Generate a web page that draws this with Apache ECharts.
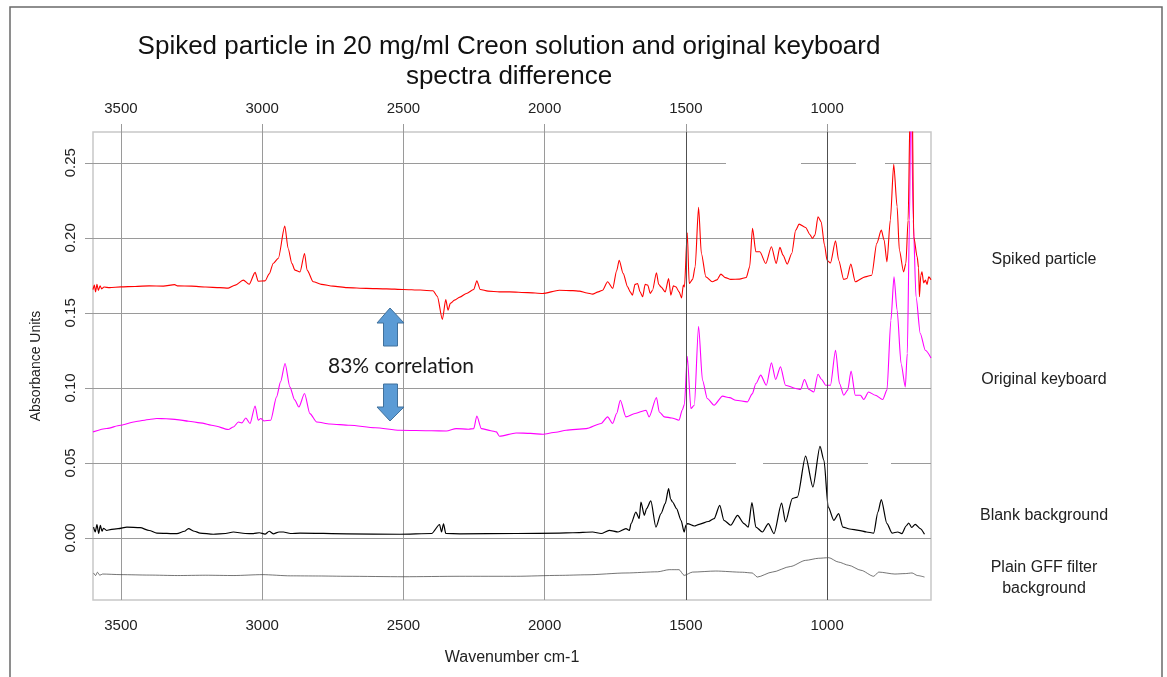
<!DOCTYPE html>
<html>
<head>
<meta charset="utf-8">
<title>Spectra difference</title>
<script src="https://cdn.jsdelivr.net/npm/echarts@6.0.0/dist/echarts.min.js"></script>
<style>
  html, body { margin: 0; padding: 0; background: #fff; }
  #chart { width: 1167px; height: 677px; }
</style>
</head>
<body>
<div id="chart"></div>
<script>
// tick positions
const xTicks = [3500, 3000, 2500, 2000, 1500, 1000]
const yTicks = [0, 0.05, 0.10, 0.15, 0.20, 0.25]
const darkLines = [1500, 1000]

// [wavenumber, absorbance]
const spiked = [
  [3599, 0.1655], [3594, 0.1685], [3590, 0.1640], [3585, 0.1690], [3580, 0.1650], [3574, 0.1680],
  [3568, 0.1660], [3560, 0.1672], [3540, 0.1668], [3500, 0.1673], [3450, 0.1676], [3400, 0.1680],
  [3350, 0.1678], [3310, 0.1688], [3300, 0.1680], [3250, 0.1678], [3200, 0.1672], [3150, 0.1668],
  [3120, 0.1665], [3095, 0.1685], [3067, 0.1718], [3046, 0.1691], [3025, 0.1770], [3014, 0.1711],
  [2990, 0.1713], [2975, 0.1760], [2961, 0.1829], [2943, 0.1863], [2920, 0.2078], [2908, 0.1929],
  [2895, 0.1830], [2884, 0.1785], [2866, 0.1773], [2850, 0.1896], [2841, 0.1785], [2819, 0.1707],
  [2790, 0.1690], [2749, 0.1678], [2700, 0.1668], [2631, 0.1663], [2560, 0.1660], [2501, 0.1656],
  [2440, 0.1652], [2395, 0.1647], [2380, 0.1610], [2362, 0.1456], [2350, 0.1589], [2342, 0.1518],
  [2334, 0.1563], [2319, 0.1585], [2300, 0.1605], [2277, 0.1629], [2251, 0.1656], [2240, 0.1713],
  [2228, 0.1656], [2200, 0.1645], [2160, 0.1640], [2124, 0.1640], [2060, 0.1635], [2007, 0.1629],
  [1948, 0.1651], [1900, 0.1648], [1877, 0.1645], [1850, 0.1632], [1830, 0.1625], [1810, 0.1640],
  [1795, 0.1651], [1777, 0.1707], [1759, 0.1663], [1745, 0.1780], [1736, 0.1851], [1722, 0.1763],
  [1706, 0.1673], [1697, 0.1640], [1689, 0.1618], [1680, 0.1690], [1671, 0.1696], [1662, 0.1640],
  [1653, 0.1607], [1644, 0.1690], [1635, 0.1685], [1626, 0.1630], [1618, 0.1651], [1604, 0.1767],
  [1596, 0.1690], [1588, 0.1673], [1573, 0.1640], [1561, 0.1729], [1553, 0.1618], [1544, 0.1680],
  [1535, 0.1673], [1524, 0.1640], [1515, 0.1600], [1509, 0.1685], [1505, 0.1673], [1495, 0.2033],
  [1488, 0.1696], [1476, 0.1723], [1467, 0.1807], [1455, 0.2203], [1445, 0.1896], [1429, 0.1740],
  [1406, 0.1707], [1390, 0.1720], [1376, 0.1758], [1360, 0.1735], [1341, 0.1723], [1310, 0.1725],
  [1286, 0.1736], [1274, 0.1807], [1264, 0.2063], [1252, 0.1907], [1238, 0.1907], [1217, 0.1829],
  [1197, 0.1940], [1180, 0.1829], [1167, 0.1936], [1156, 0.1885], [1141, 0.1825], [1125, 0.1896],
  [1111, 0.2051], [1099, 0.2091], [1076, 0.2069], [1060, 0.2020], [1052, 0.1996], [1043, 0.2018],
  [1032, 0.2140], [1021, 0.2107], [1009, 0.1951], [1000, 0.1851], [988, 0.1833], [970, 0.1980],
  [959, 0.1851], [941, 0.1723], [930, 0.1729], [916, 0.1825], [900, 0.1707], [865, 0.1740],
  [842, 0.1751], [824, 0.1963], [808, 0.2051], [798, 0.1985], [788, 0.1840], [776, 0.2118],
  [764, 0.2489], [752, 0.2207], [744, 0.1918], [729, 0.1773], [721, 0.1829], [713, 0.2118],
  [706, 0.2850], [699, 0.3000], [693, 0.2007], [681, 0.1873], [676, 0.1800], [673, 0.1607],
  [668, 0.1750], [664, 0.1773], [658, 0.1700], [652, 0.1718], [646, 0.1690], [640, 0.1740],
  [632, 0.1720]
]

const keyboard = [
  [3599, 0.0707], [3550, 0.0730], [3502, 0.0751], [3450, 0.0775], [3400, 0.0790], [3373, 0.0796],
  [3340, 0.0795], [3302, 0.0789], [3260, 0.0778], [3220, 0.0767], [3170, 0.0748], [3120, 0.0723],
  [3102, 0.0740], [3084, 0.0773], [3072, 0.0767], [3058, 0.0800], [3043, 0.0763], [3025, 0.0880],
  [3014, 0.0785], [3005, 0.0796], [2994, 0.0780], [2970, 0.0785], [2949, 0.0940], [2935, 0.1040],
  [2919, 0.1163], [2902, 0.1007], [2885, 0.0920], [2870, 0.0873], [2850, 0.0963], [2831, 0.0829],
  [2807, 0.0773], [2760, 0.0760], [2690, 0.0751], [2600, 0.0735], [2513, 0.0718], [2400, 0.0715],
  [2348, 0.0713], [2313, 0.0729], [2270, 0.0725], [2251, 0.0729], [2240, 0.0813], [2224, 0.0729],
  [2190, 0.0715], [2171, 0.0707], [2160, 0.0678], [2101, 0.0700], [2050, 0.0697], [2007, 0.0691],
  [1960, 0.0705], [1924, 0.0718], [1853, 0.0729], [1800, 0.0763], [1777, 0.0807], [1759, 0.0763],
  [1745, 0.0830], [1732, 0.0918], [1712, 0.0807], [1680, 0.0830], [1641, 0.0851], [1630, 0.0807],
  [1604, 0.0936], [1594, 0.0840], [1576, 0.0807], [1550, 0.0800], [1524, 0.0785], [1513, 0.0851],
  [1505, 0.0890], [1495, 0.1211], [1482, 0.0863], [1470, 0.0885], [1455, 0.1411], [1441, 0.1051],
  [1424, 0.0929], [1400, 0.0885], [1370, 0.0945], [1345, 0.0935], [1323, 0.0918], [1282, 0.0907],
  [1265, 0.0960], [1252, 0.1029], [1235, 0.1085], [1215, 0.1018], [1197, 0.1167], [1182, 0.1056],
  [1165, 0.1140], [1147, 0.1018], [1111, 0.0996], [1094, 0.0989], [1080, 0.1056], [1064, 0.0989],
  [1047, 0.0973], [1032, 0.1091], [1019, 0.1056], [1005, 0.1018], [988, 0.1018], [970, 0.1251],
  [956, 0.1029], [941, 0.0951], [927, 0.0985], [915, 0.1113], [900, 0.0951], [882, 0.0951],
  [870, 0.0923], [853, 0.0973], [829, 0.0951], [803, 0.0923], [788, 0.0985], [774, 0.1451],
  [763, 0.1740], [752, 0.1518], [738, 0.1163], [723, 0.1007], [716, 0.1229], [708, 0.2118],
  [703, 0.3100], [695, 0.2118], [685, 0.1607], [670, 0.1363], [652, 0.1251], [632, 0.1200]
]

const blank = [
  [3597, 0.0073], [3591, 0.0040], [3585, 0.0090], [3579, 0.0030], [3573, 0.0085], [3567, 0.0045],
  [3562, 0.0065], [3550, 0.0050], [3538, 0.0056], [3510, 0.0062], [3479, 0.0073], [3432, 0.0069],
  [3400, 0.0050], [3373, 0.0033], [3302, 0.0029], [3275, 0.0045], [3261, 0.0063], [3240, 0.0045],
  [3220, 0.0033], [3173, 0.0025], [3130, 0.0030], [3102, 0.0040], [3060, 0.0030], [3031, 0.0029],
  [3010, 0.0035], [2990, 0.0026], [2975, 0.0045], [2961, 0.0028], [2940, 0.0040], [2925, 0.0040],
  [2900, 0.0030], [2866, 0.0033], [2700, 0.0028], [2513, 0.0025], [2400, 0.0030], [2372, 0.0090],
  [2365, 0.0040], [2358, 0.0095], [2350, 0.0030], [2300, 0.0028], [2100, 0.0030], [1948, 0.0033],
  [1900, 0.0035], [1830, 0.0040], [1800, 0.0030], [1771, 0.0051], [1740, 0.0040], [1712, 0.0063],
  [1700, 0.0050], [1694, 0.0096], [1677, 0.0173], [1665, 0.0130], [1659, 0.0240], [1647, 0.0151],
  [1639, 0.0196], [1624, 0.0247], [1606, 0.0073], [1588, 0.0163], [1573, 0.0229], [1561, 0.0329],
  [1554, 0.0260], [1547, 0.0240], [1533, 0.0196], [1517, 0.0118], [1506, 0.0040], [1500, 0.0085],
  [1494, 0.0096], [1470, 0.0080], [1453, 0.0091], [1420, 0.0110], [1400, 0.0129], [1380, 0.0218],
  [1365, 0.0118], [1341, 0.0085], [1317, 0.0151], [1294, 0.0096], [1279, 0.0073], [1266, 0.0236],
  [1252, 0.0073], [1229, 0.0040], [1208, 0.0096], [1188, 0.0029], [1161, 0.0233], [1147, 0.0107],
  [1123, 0.0263], [1105, 0.0273], [1076, 0.0545], [1050, 0.0340], [1025, 0.0611], [1011, 0.0518],
  [996, 0.0207], [976, 0.0118], [959, 0.0163], [944, 0.0073], [920, 0.0060], [888, 0.0051],
  [860, 0.0040], [835, 0.0033], [820, 0.0173], [808, 0.0256], [788, 0.0096], [770, 0.0033],
  [750, 0.0040], [735, 0.0029], [720, 0.0080], [711, 0.0100], [700, 0.0070], [688, 0.0091],
  [670, 0.0063], [655, 0.0025]
]

const filter = [
  [3597, -0.0233], [3590, -0.0250], [3583, -0.0228], [3575, -0.0248], [3565, -0.0240], [3500, -0.0244],
  [3400, -0.0247], [3300, -0.0250], [3200, -0.0248], [3100, -0.0250], [3000, -0.0244], [2900, -0.0252],
  [2800, -0.0253], [2700, -0.0255], [2500, -0.0258], [2300, -0.0255], [2100, -0.0255], [1948, -0.0249],
  [1850, -0.0245], [1712, -0.0233], [1600, -0.0225], [1559, -0.0211], [1524, -0.0211], [1506, -0.0249],
  [1476, -0.0227], [1394, -0.0220], [1300, -0.0228], [1265, -0.0233], [1247, -0.0260], [1194, -0.0227],
  [1130, -0.0190], [1076, -0.0149], [1030, -0.0135], [994, -0.0131], [960, -0.0160], [923, -0.0182],
  [880, -0.0215], [835, -0.0255], [817, -0.0227], [760, -0.0240], [723, -0.0237], [699, -0.0233],
  [680, -0.0250], [655, -0.0260]
]

const seriesNames = ['Spiked particle', 'Original keyboard', 'Blank background', 'Plain GFF filter\nbackground']
const labelY = [260, 380, 516, 578]

const font = 'Liberation Sans, Arial, sans-serif'
const gridColor = '#9a9a9a'

const chart = echarts.init(document.getElementById('chart'))

const xAxisBase = {
  type: 'value',
  min: 632,
  max: 3599,
  inverse: true,
  axisLine: { show: false },
  axisTick: { show: true, length: 8, customValues: xTicks, lineStyle: { color: gridColor } },
  axisLabel: { customValues: xTicks, fontSize: 15, color: '#222', fontFamily: font, formatter: v => String(v) }
}

const lineSeries = (name, data, color, width) => ({
  name: name,
  type: 'line',
  data: data,
  showSymbol: false,
  symbol: 'none',
  smooth: 0.25,
  smoothMonotone: 'x',
  clip: true,
  animation: false,
  lineStyle: { color: color, width: width },
  z: 3
})

// white patches where the original picture has breaks in two grid lines
const gridGap = (x1, x2, y) => ({
  type: 'rect', shape: { x: x1, y: y - 1.5, width: x2 - x1, height: 3 },
  style: { fill: '#fff' }, z: 1, silent: true
})

const option = {
  backgroundColor: '#fff',
  animation: false,
  grid: {
    left: 93, top: 132, width: 838, height: 468,
    show: true, borderColor: '#c8c8c8', borderWidth: 1.5
  },
  xAxis: [
    Object.assign({}, xAxisBase, {
      position: 'bottom',
      axisLabel: Object.assign({}, xAxisBase.axisLabel, { margin: 18 }),
      splitLine: { show: true, lineStyle: { color: gridColor, width: 1 } },
      name: 'Wavenumber cm-1',
      nameLocation: 'middle',
      nameGap: 50,
      nameTextStyle: { fontSize: 16, color: '#222', fontFamily: font }
    }),
    Object.assign({}, xAxisBase, {
      position: 'top',
      axisLabel: Object.assign({}, xAxisBase.axisLabel, { margin: 16 }),
      splitLine: { show: false }
    })
  ],
  yAxis: {
    type: 'value',
    min: -0.0413,
    max: 0.2705,
    axisLine: { show: false },
    axisTick: { show: true, length: 8, customValues: yTicks, lineStyle: { color: gridColor } },
    axisLabel: {
      customValues: yTicks,
      rotate: 90,
      margin: 15,
      fontSize: 15,
      color: '#222',
      fontFamily: font,
      formatter: v => v.toFixed(2)
    },
    splitLine: { show: true, lineStyle: { color: gridColor, width: 1 } },
    name: 'Absorbance Units',
    nameLocation: 'middle',
    nameRotate: 90,
    nameGap: 50,
    nameTextStyle: { fontSize: 14, color: '#222', fontFamily: font }
  },
  series: [
    Object.assign(lineSeries(seriesNames[3], filter, '#3a3a3a', 0.7), {
      markLine: {
        silent: true,
        symbol: 'none',
        label: { show: false },
        lineStyle: { color: '#505050', width: 1, type: 'solid' },
        data: darkLines.map(v => ({ xAxis: v }))
      }
    }),
    lineSeries(seriesNames[2], blank, '#000', 1.2),
    lineSeries(seriesNames[1], keyboard, '#ff00ff', 1.1),
    lineSeries(seriesNames[0], spiked, '#ff0000', 1.1)
  ],
  graphic: [
    // outer frame
    { type: 'rect', shape: { x: 10, y: 7, width: 1152, height: 700 }, style: { fill: null, stroke: '#6a6a6a', lineWidth: 1.5 }, z: 0 },
    gridGap(726, 801, 162.5), gridGap(856, 885, 162.5),
    gridGap(736, 763, 463), gridGap(868, 891, 463),
    {
      type: 'text', x: 509, y: 62,
      style: {
        text: 'Spiked particle in 20 mg/ml Creon solution and original keyboard\nspectra difference',
        font: '26px ' + font, fill: '#111', align: 'center', verticalAlign: 'middle', lineHeight: 30
      }
    },
    // arrows
    {
      type: 'polygon',
      shape: { points: [[390, 308], [404, 323], [397.5, 323], [397.5, 346], [383.5, 346], [383.5, 323], [377, 323]] },
      style: { fill: '#5b9bd5', stroke: '#41719c', lineWidth: 1 }, z: 10
    },
    {
      type: 'polygon',
      shape: { points: [[383.5, 384], [397.5, 384], [397.5, 407], [404, 407], [390, 421], [377, 407], [383.5, 407]] },
      style: { fill: '#5b9bd5', stroke: '#41719c', lineWidth: 1 }, z: 10
    },
    {
      type: 'text', x: 401, y: 366,
      style: { text: '83% correlation', font: '21px Lato, "Open Sans", sans-serif', fill: '#1a1a1a', align: 'center', verticalAlign: 'middle' },
      z: 10
    }
  ].concat(seriesNames.map((n, i) => ({
    type: 'text', x: 1044, y: labelY[i],
    style: { text: n, font: '16px ' + font, fill: '#222', align: 'center', verticalAlign: 'middle', lineHeight: 21 }
  })))
}

chart.setOption(option)
</script>
</body>
</html>
